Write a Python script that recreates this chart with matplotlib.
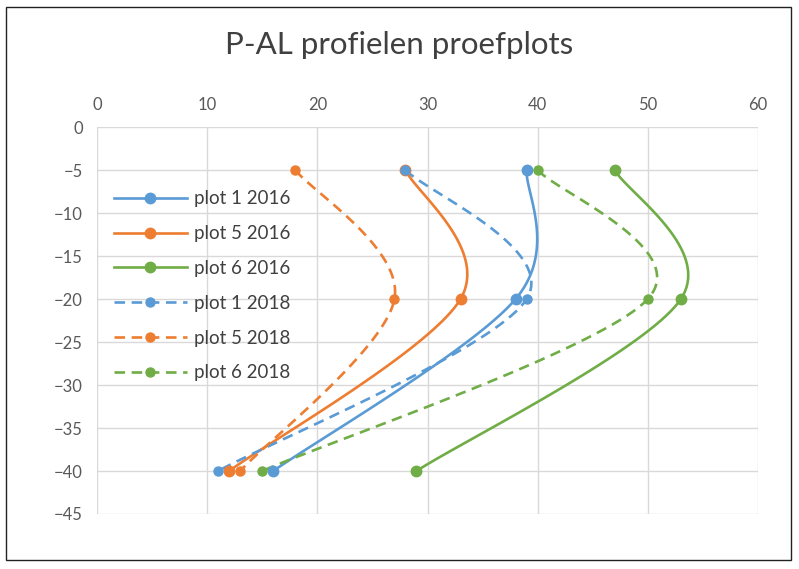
import matplotlib.pyplot as plt
import matplotlib.patches as mpatches
import numpy as np

plt.rcParams['font.family'] = ['Lato', 'DejaVu Sans']

# diepte (cm) en P-AL waarden per plot
depth = [-5, -20, -40]
plot1_2016 = [39, 38, 16]
plot5_2016 = [28, 33, 12]
plot6_2016 = [47, 53, 29]
plot1_2018 = [28, 39, 11]
plot5_2018 = [18, 27, 13]
plot6_2018 = [40, 50, 15]

labels = ["plot 1 2016", "plot 5 2016", "plot 6 2016",
          "plot 1 2018", "plot 5 2018", "plot 6 2018"]
blue = "#5B9BD5"
orange = "#ED7D31"
green = "#70AD47"


def smooth(xs, ys, n=40):
    # excel-achtige smoothing (catmull-rom via bezier)
    p = np.column_stack([xs, ys]).astype(float)
    out = []
    for i in range(len(p) - 1):
        p0 = p[max(i - 1, 0)]
        p1 = p[i]
        p2 = p[i + 1]
        p3 = p[min(i + 2, len(p) - 1)]
        c1 = p1 + (p2 - p0) / 6
        c2 = p2 - (p3 - p1) / 6
        t = np.linspace(0, 1, n)[:, None]
        seg = ((1 - t) ** 3) * p1 + 3 * ((1 - t) ** 2) * t * c1 + 3 * (1 - t) * t ** 2 * c2 + t ** 3 * p2
        out.append(seg)
    s = np.vstack(out)
    return s[:, 0], s[:, 1]


fig = plt.figure(figsize=(7.99, 5.69), dpi=100)
ax = fig.add_axes([97 / 799, 1 - 514 / 569, (758 - 97) / 799, (514 - 127) / 569])

series = [
    (plot1_2016, blue, "-", 7.5),
    (plot5_2016, orange, "-", 7.5),
    (plot6_2016, green, "-", 7.5),
    (plot1_2018, blue, (0, (4, 2.5)), 6.5),
    (plot5_2018, orange, (0, (4, 2.5)), 6.5),
    (plot6_2018, green, (0, (4, 2.5)), 6.5),
]
for (vals, col, ls, ms), lab in zip(series, labels):
    sx, sy = smooth(vals, depth)
    ax.plot(sx, sy, color=col, ls=ls, lw=1.9, zorder=3)
    ax.plot(vals, depth, "o", color=col, ms=ms, zorder=4)
    ax.plot([], [], color=col, ls=ls, lw=1.9, marker="o", ms=ms, label=lab)

ax.set_xlim(0, 60)
ax.set_ylim(-45, 0)
ax.set_xticks(range(0, 61, 10))
ax.set_yticks(range(-45, 1, 5))
ax.xaxis.tick_top()
ax.grid(True, color="#d9d9d9", lw=1)
ax.set_axisbelow(True)
for s in ax.spines.values():
    s.set_visible(False)
ax.tick_params(length=0, labelsize=12, labelcolor="#595959", pad=10)

ax.legend(loc="upper left", bbox_to_anchor=(0.0, 0.88), frameon=False,
          fontsize=13.5, labelcolor="#404040", handlelength=3.9,
          labelspacing=0.95, handletextpad=0.4)

fig.text(0.5, 1 - 45 / 569, "P-AL profielen proefplots", ha="center", va="center",
         fontsize=22.5, color="#404040")

fig.patches.append(mpatches.Rectangle((6 / 799, 9 / 569), 785 / 799, 553 / 569,
                                      transform=fig.transFigure, fill=False,
                                      edgecolor="#222222", lw=1))

fig.savefig("out.png", dpi=100)
